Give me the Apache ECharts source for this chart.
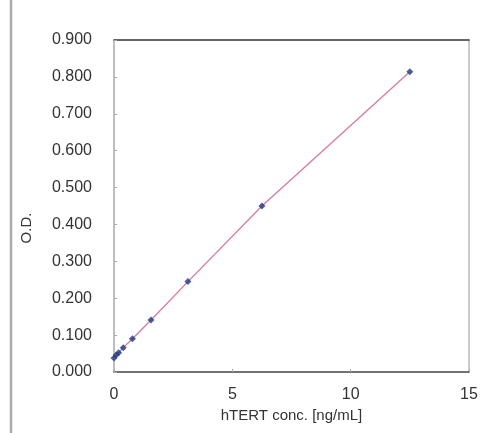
<!DOCTYPE html>
<html>
<head>
<meta charset="utf-8">
<script src="https://cdn.jsdelivr.net/npm/echarts@6/dist/echarts.min.js"></script>
<style>
  html, body { margin: 0; padding: 0; background: #fff; }
  #chart { width: 489px; height: 433px; }
</style>
</head>
<body>
<div id="chart"></div>
<script>
// standard curve points (concentration, O.D.)
const conc = [0, 0.098, 0.195, 0.39, 0.78, 1.5625, 3.125, 6.25, 12.5]
const od = [0.038, 0.046, 0.052, 0.066, 0.09, 0.141, 0.245, 0.45, 0.814]
const yTicks = ["0.000", "0.100", "0.200", "0.300", "0.400", "0.500", "0.600", "0.700", "0.800", "0.900"]

const chart = echarts.init(document.getElementById("chart"))

const font = "Liberation Sans, Arial, sans-serif"

const option = {
    animation: false,
    textStyle: { fontFamily: font },
    grid: { left: 114, right: 20, top: 40, bottom: 61 },
    xAxis: [
        {
            type: "value",
            min: 0,
            max: 15,
            interval: 5,
            name: "hTERT conc. [ng/mL]",
            nameLocation: "middle",
            nameGap: 34,
            nameTextStyle: { fontSize: 15, color: "#333", fontFamily: font },
            axisLine: { lineStyle: { color: "#444", width: 1.5 } },
            axisTick: { inside: true, length: 3, lineStyle: { color: "#aaa" } },
            axisLabel: { fontSize: 16, color: "#333", margin: 15, fontFamily: font },
            splitLine: { show: false },
        },
        {
            type: "value",
            position: "top",
            min: 0,
            max: 15,
            axisLine: { show: true, onZero: false, lineStyle: { color: "#333", width: 1.5 } },
            axisTick: { show: false },
            axisLabel: { show: false },
            splitLine: { show: false },
        },
    ],
    yAxis: [
        {
            type: "value",
            min: 0,
            max: 0.9,
            interval: 0.1,
            axisLine: { show: true, lineStyle: { color: "#aaa", width: 1.5 } },
            axisTick: { show: true, inside: true, length: 3, lineStyle: { color: "#aaa" } },
            axisLabel: {
                fontSize: 16,
                color: "#333",
                margin: 22,
                fontFamily: font,
                formatter: (v) => yTicks[Math.round(v * 10)],
            },
            splitLine: { show: false },
        },
        {
            type: "value",
            position: "right",
            min: 0,
            max: 0.9,
            axisLine: { show: true, onZero: false, lineStyle: { color: "#bbb", width: 1.5 } },
            axisTick: { show: false },
            axisLabel: { show: false },
            splitLine: { show: false },
        },
    ],
    series: [
        {
            name: "trend",
            type: "line",
            data: conc.map((x, i) => [x, od[i]]),
            showSymbol: false,
            lineStyle: { color: "#d97a9a", width: 1.3 },
            z: 1,
        },
        {
            name: "O.D.",
            type: "scatter",
            data: conc.map((x, i) => [x, od[i]]),
            symbol: "diamond",
            symbolSize: 7,
            itemStyle: { color: "#1c3a80" },
            z: 2,
        },
    ],
    graphic: [
        {
            type: "line",
            shape: { x1: 11, y1: 0, x2: 11, y2: 433 },
            style: { stroke: "#aaa", lineWidth: 2.5 },
        },
        {
            type: "text",
            x: 27,
            y: 228,
            rotation: Math.PI / 2,
            style: {
                text: "O.D.",
                fontSize: 15,
                fontFamily: font,
                fill: "#333",
                align: "center",
                verticalAlign: "middle",
            },
        },
    ],
}

chart.setOption(option)
</script>
</body>
</html>
